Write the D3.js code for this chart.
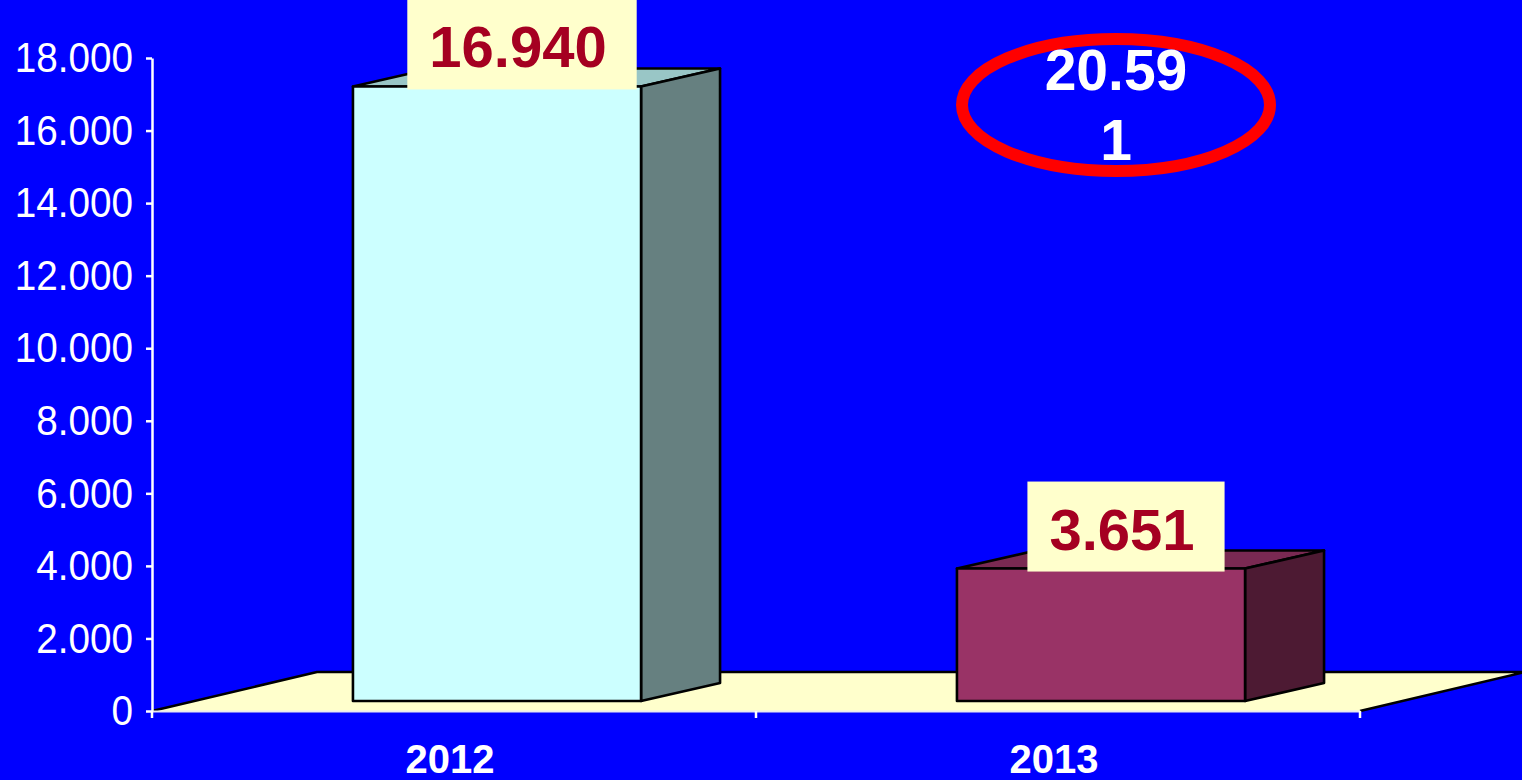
<!DOCTYPE html>
<html>
<head>
<meta charset="utf-8">
<script src="https://cdn.jsdelivr.net/npm/d3@7"></script>
<style>
  html, body { margin: 0; padding: 0; background: #0000ff; overflow: hidden; }
  svg { display: block; font-family: "Liberation Sans", Arial, sans-serif; }
</style>
</head>
<body>
<script>
const years = ["2012", "2013"];
const values = [16940, 3651];
const yTicks = [0, 2000, 4000, 6000, 8000, 10000, 12000, 14000, 16000, 18000];

const width = 1522, height = 780;
const locale = d3.formatLocale({decimal: ",", thousands: ".", grouping: [3], currency: ["", ""]});
const fmt = locale.format(",");

// colours per bar: front, top, side
const front = d3.scaleOrdinal().domain(years).range(["#ccffff", "#993366"]);
const topC = d3.scaleOrdinal().domain(years).range(["#99c6c6", "#7a2952"]);
const side = d3.scaleOrdinal().domain(years).range(["#668080", "#4d1a33"]);

const x = d3.scaleBand().domain(years).range([152, 1360]);
const y = d3.scaleLinear().domain([0, 18000]).range([711, 58]);

// 3d depth of floor and bars
const floorD = [165, -39];
const barOff = [43, -10];
const barD = [79, -18];
const barW = x.bandwidth() * 0.477;

const svg = d3.select("body").append("svg")
  .attr("width", width)
  .attr("height", height);

svg.append("rect").attr("width", width).attr("height", height).attr("fill", "#0000ff");

// floor
const x0 = x.range()[0], x1 = x.range()[1], y0 = y(0);
svg.append("polygon")
  .attr("points", [[x0, y0], [x1, y0], [x1 + floorD[0], y0 + floorD[1]], [x0 + floorD[0], y0 + floorD[1]]].join(" "))
  .attr("fill", "#ffffcc");
svg.append("path")
  .attr("d", `M${x0},${y0}L${x0 + floorD[0]},${y0 + floorD[1]}H${x1 + floorD[0]}L${x1},${y0}`)
  .attr("fill", "none")
  .attr("stroke", "#000")
  .attr("stroke-width", 2.5)
  .attr("stroke-linejoin", "round");

// y axis
const yAxis = svg.append("g")
  .attr("transform", `translate(${x0},0)`)
  .call(d3.axisLeft(y).tickValues(yTicks).tickFormat(fmt).tickSize(6).tickSizeOuter(0).tickPadding(15));
yAxis.select(".domain").attr("stroke", "#fff").attr("stroke-width", 2.5);
yAxis.selectAll(".tick line").attr("stroke", "#fff").attr("stroke-width", 2.5);
yAxis.selectAll(".tick text")
  .attr("fill", "#fff")
  .attr("font-size", 43)
  .attr("font-family", "Liberation Sans, Arial, sans-serif")
  .attr("transform", "scale(0.9,1)");

// x axis
const xAxis = svg.append("g")
  .attr("transform", `translate(0,${y0})`)
  .call(d3.axisBottom(x).tickSize(0).tickPadding(0).tickSizeOuter(0));
xAxis.select(".domain").attr("stroke", "#e8e8f0").attr("stroke-width", 2);
xAxis.selectAll(".tick text")
  .attr("fill", "#fff")
  .attr("font-size", 40)
  .attr("font-weight", "bold")
  .attr("font-family", "Liberation Sans, Arial, sans-serif")
  .attr("dy", 0)
  .attr("y", 62)
  .attr("dx", -4);
const bounds = years.map(d => x(d)).concat([x1]);
xAxis.selectAll(".bound").data(bounds).enter().append("line")
  .attr("class", "bound")
  .attr("x1", d => d).attr("x2", d => d)
  .attr("y1", 0).attr("y2", 7)
  .attr("stroke", "#fff").attr("stroke-width", 2.5);

// bars
const bars = years.map((d, i) => {
  const bx = x(d) + x.bandwidth() / 2 + barOff[0] - barW / 2;
  const by = y(values[i]) + barOff[1];
  const bb = y(0) + barOff[1];
  return {year: d, value: values[i], bx, by, bb};
});

const g = svg.selectAll(".bar").data(bars).enter().append("g").attr("class", "bar");
g.append("polygon")
  .attr("points", b => [[b.bx, b.by], [b.bx + barD[0], b.by + barD[1]], [b.bx + barW + barD[0], b.by + barD[1]], [b.bx + barW, b.by]].join(" "))
  .attr("fill", b => topC(b.year));
g.append("polygon")
  .attr("points", b => [[b.bx + barW, b.by], [b.bx + barW + barD[0], b.by + barD[1]], [b.bx + barW + barD[0], b.bb + barD[1]], [b.bx + barW, b.bb]].join(" "))
  .attr("fill", b => side(b.year));
g.append("rect")
  .attr("x", b => b.bx).attr("y", b => b.by)
  .attr("width", barW).attr("height", b => b.bb - b.by)
  .attr("fill", b => front(b.year));
g.selectAll("polygon, rect")
  .attr("stroke", "#000").attr("stroke-width", 2.6).attr("stroke-linejoin", "round");

// value labels
const lab = svg.selectAll(".lab").data(bars).enter().append("g").attr("class", "lab");
lab.each(function(b) {
  const gg = d3.select(this);
  const boxRect = gg.append("rect").attr("fill", "#ffffcc");
  const t = gg.append("text")
    .attr("font-size", 58)
    .attr("font-weight", "bold")
    .attr("fill", "#a50021")
    .text(fmt(b.value));
  const tw = t.node().getComputedTextLength();
  const bw = tw + 22 + 30;
  const cx = b.bx + barW / 2 + 25;
  const bottom = b.by + 3;
  const left = cx - bw / 2;
  boxRect.attr("x", left).attr("y", bottom - 90).attr("width", bw).attr("height", 90);
  t.attr("x", left + 22).attr("y", bottom - 22);
});

// total annotation
const total = fmt(d3.sum(values));
const lines = [total.slice(0, -1), total.slice(-1)];
const ax = x("2013") + x.bandwidth() / 2 + 58;
const ay = y(18000) + 47;
svg.append("ellipse")
  .attr("cx", ax).attr("cy", ay)
  .attr("rx", 154).attr("ry", 66)
  .attr("fill", "none")
  .attr("stroke", "#ff0000")
  .attr("stroke-width", 12);
svg.append("text")
  .attr("x", ax)
  .attr("text-anchor", "middle")
  .attr("font-size", 57)
  .attr("font-weight", "bold")
  .attr("fill", "#fff")
  .selectAll("tspan").data(lines).enter().append("tspan")
  .attr("x", ax)
  .attr("y", (d, i) => ay - 15 + i * 70)
  .text(d => d);
</script>
</body>
</html>
